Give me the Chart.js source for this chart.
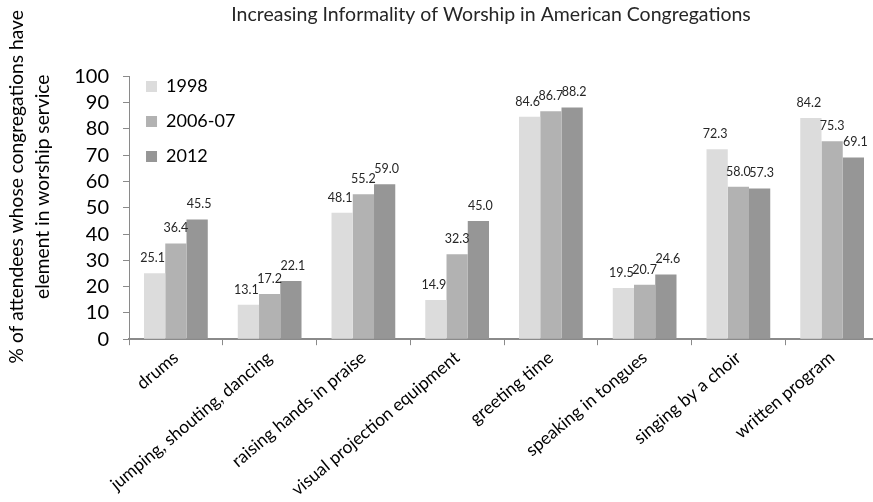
<!DOCTYPE html>
<html>
<head>
<meta charset="utf-8">
<script src="https://cdn.jsdelivr.net/npm/chart.js@4/dist/chart.umd.min.js"></script>
<style>
  html, body { margin: 0; padding: 0; background: #fff; overflow: hidden; }
  #clip { width: 873px; height: 502px; overflow: hidden; position: relative; }
  #wrap { width: 890px; height: 502px; position: absolute; left: 0; top: 0; }
</style>
</head>
<body>
<div id="clip"><div id="wrap"><canvas id="c"></canvas></div></div>
<script>
const categories = ["drums", "jumping, shouting, dancing", "raising hands in praise", "visual projection equipment", "greeting time", "speaking in tongues", "singing by a choir", "written program"];
const seriesNames = ["1998", "2006-07", "2012"];
const values1998 = [25.1, 13.1, 48.1, 14.9, 84.6, 19.5, 72.3, 84.2];
const values2006 = [36.4, 17.2, 55.2, 32.3, 86.7, 20.7, 58.0, 75.3];
const values2012 = [45.5, 22.1, 59.0, 45.0, 88.2, 24.6, 57.3, 69.1];
const yTicks = [0, 10, 20, 30, 40, 50, 60, 70, 80, 90, 100];
const titleText = "Increasing Informality of Worship in American Congregations";
const yTitle = ["% of attendees whose congregations have", "element in worship service"];

const FONT = "Lato, 'Open Sans', sans-serif";
const colors = ["#dcdcdc", "#b2b2b2", "#969696"];

const valueLabels = {
  id: "valueLabels",
  afterDatasetsDraw(chart) {
    const ctx = chart.ctx;
    ctx.save();
    ctx.font = "12.5px " + FONT;
    ctx.fillStyle = "#262626";
    ctx.textAlign = "center";
    ctx.textBaseline = "bottom";
    chart.data.datasets.forEach((ds, i) => {
      const meta = chart.getDatasetMeta(i);
      const shift = (i - 1) * 2;
      meta.data.forEach((bar, j) => {
        ctx.fillText(ds.data[j].toFixed(1), bar.x + shift, bar.y - 9);
      });
    });
    ctx.restore();
  }
};

const boxNudge = {
  id: "boxNudge",
  afterLayout(chart) {
    const lg = chart.legend;
    if (lg) { lg.top = chart.chartArea.top - 16; lg.left = chart.chartArea.left; }
    const tb = chart.titleBlock;
    if (tb) { tb.left -= 13; tb.right -= 13; }
    const ys = chart.scales.y;
    if (ys && !ys._titleShifted) {
      const orig = ys.drawTitle.bind(ys);
      ys.drawTitle = function () {
        const ctx = this.ctx;
        ctx.save();
        ctx.translate(0, -21);
        orig();
        ctx.restore();
      };
      ys._titleShifted = true;
    }
  }
};

new Chart(document.getElementById("c"), {
  type: "bar",
  data: {
    labels: categories,
    datasets: [
      { label: seriesNames[0], data: values1998, backgroundColor: colors[0], borderWidth: 0 },
      { label: seriesNames[1], data: values2006, backgroundColor: colors[1], borderWidth: 0 },
      { label: seriesNames[2], data: values2012, backgroundColor: colors[2], borderWidth: 0 }
    ]
  },
  options: {
    responsive: true,
    maintainAspectRatio: false,
    animation: false,
    devicePixelRatio: 1,
    layout: { padding: { left: 0, right: 11, top: 0, bottom: 0 } },
    datasets: { bar: { categoryPercentage: 0.68, barPercentage: 1.0 } },
    plugins: {
      title: {
        display: true,
        text: titleText,
        fullSize: false,
        font: { family: FONT, size: 19.5, weight: "normal", lineHeight: 1.2 },
        color: "#262626",
        padding: { top: 3, bottom: 50 }
      },
      legend: {
        position: "chartArea",
        align: "start",
        labels: {
          boxWidth: 11, boxHeight: 11, padding: 17,
          font: { family: FONT, size: 18 },
          color: "#000"
        }
      },
      tooltip: { enabled: false }
    },
    scales: {
      x: {
        grid: { display: true, drawOnChartArea: false, drawTicks: true, tickLength: 6, color: "#8a8a8a", lineWidth: 1 },
        border: { display: true, color: "#8a8a8a", width: 2 },
        ticks: {
          autoSkip: false, minRotation: 40, maxRotation: 40, padding: 2,
          font: { family: FONT, size: 17.5 }, color: "#000"
        }
      },
      y: {
        min: 0, max: 100,
        afterBuildTicks(scale) { scale.ticks = yTicks.map(v => ({ value: v })); },
        grid: { display: true, drawOnChartArea: false, drawTicks: true, tickLength: 6, color: "#8a8a8a" },
        border: { display: true, color: "#8a8a8a", width: 1 },
        ticks: { autoSkip: false, padding: 14, font: { family: FONT, size: 20 }, color: "#000" },
        title: {
          display: true,
          text: yTitle,
          font: { family: FONT, size: 19.2, lineHeight: 1.36 },
          color: "#000",
          padding: { top: 4, bottom: 4 }
        }
      }
    }
  },
  plugins: [valueLabels, boxNudge]
});
</script>
</body>
</html>
